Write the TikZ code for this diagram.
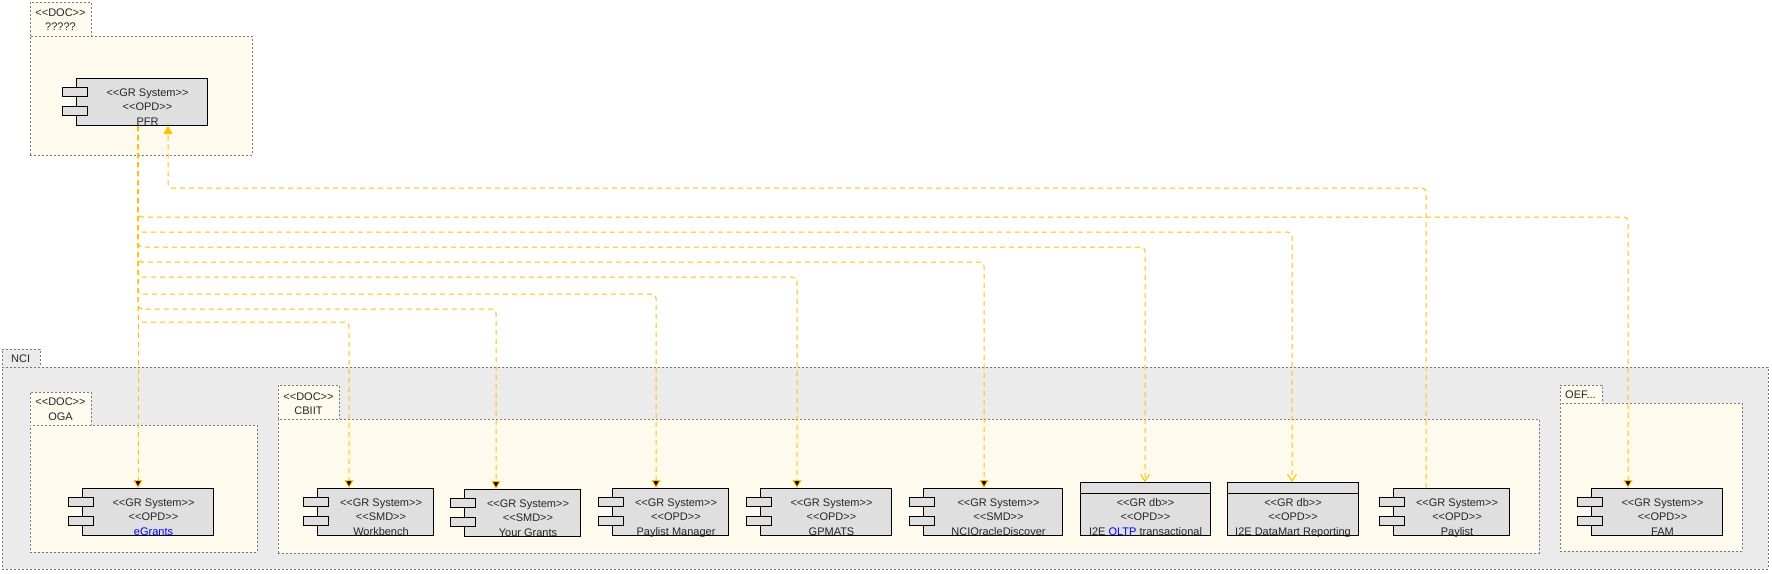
\documentclass[tikz,border=0pt]{standalone}
\usepackage{fontspec}
\setmainfont{Liberation Sans}
\usetikzlibrary{arrows.meta,calc}
\definecolor{cream}{RGB}{254,250,238}
\definecolor{ncigray}{RGB}{235,235,235}
\definecolor{compfill}{RGB}{223,223,223}
\definecolor{pkgline}{RGB}{120,120,120}
\definecolor{depc}{RGB}{255,192,0}
\definecolor{linkblue}{RGB}{0,0,255}
\newcommand\st[1]{<\kern0pt<#1>\kern0pt>}
\tikzset{
  pkgbody/.style={draw=pkgline, line width=0.8pt, dash pattern=on 2pt off 2pt, fill=cream, inner sep=0pt, anchor=north west},
  ncibody/.style={pkgbody, fill=ncigray},
  comp/.style={draw=black, line width=1pt, fill=compfill, minimum height=47pt, inner sep=0pt, anchor=north west},
  port/.style={draw=black, line width=1pt, fill=compfill},
  lbl/.style={anchor=base, inner sep=0pt, font=\fontsize{11}{13}\selectfont, text=black!85},
  lbll/.style={lbl, anchor=base west},
  dep/.style={draw=depc, line width=1pt, dash pattern=on 5pt off 4pt, rounded corners=4pt},
  usearrow/.style={-{Triangle[width=9pt,length=8pt,fill=black]}},
  dbarrow/.style={-{Straight Barb[width=9pt,length=7pt]}},
  pfrarrow/.style={-{Triangle[width=9pt,length=8pt]}},
}
\newcommand\comp[7]{%
  \node[comp, minimum width=#4pt] (#1) at (#2,#3) {};
  \draw[port] ([xshift=-14pt,yshift=-9pt]#1.north west) rectangle ++(25,9);
  \draw[port] ([xshift=-14pt,yshift=-28pt]#1.north west) rectangle ++(25,9);
  \begin{scope}
    \clip (#1.south west) rectangle (#1.north east);
    \node[lbl] (#1-a) at ([xshift=5.5pt,yshift=-18pt]#1.north) {#5};
    \node[lbl] (#1-b) at ([xshift=5.5pt,yshift=-32pt]#1.north) {#6};
    \node[lbl] (#1-c) at ([xshift=5.5pt,yshift=-47pt]#1.north) {#7};
  \end{scope}}
\newcommand\dbbox[7]{%
  \node[comp, minimum width=#4pt, minimum height=53pt] (#1) at (#2,#3) {};
  \draw[line width=1pt] ([yshift=-11pt]#1.north west) -- ([yshift=-11pt]#1.north east);
  \begin{scope}
    \clip (#1.south west) rectangle (#1.north east);
    \node[lbl] (#1-a) at ([yshift=-24pt]#1.north) {#5};
    \node[lbl] (#1-b) at ([yshift=-38pt]#1.north) {#6};
    \node[lbl] (#1-c) at ([yshift=-53pt]#1.north) {#7};
  \end{scope}}
\begin{document}
\begin{tikzpicture}[x=1pt,y=-1pt]
\useasboundingbox[fill=white] (0,0) rectangle (1772,573);

% ---------- packages ----------
\node[pkgbody, minimum width=61pt, minimum height=34pt] (doctab) at (30,2) {};
\node[pkgbody, minimum width=222pt, minimum height=119pt] (docbody) at (30,36) {};
\node[lbl] (doctab-a) at (60.5,16) {\st{DOC}};
\node[lbl] (doctab-b) at (60.5,30) {?????};

\node[ncibody, minimum width=38pt, minimum height=18pt] (ncitab) at (2,349) {};
\node[ncibody, minimum width=1766pt, minimum height=202pt] (ncib) at (2,367) {};
\node[lbll] (ncitab-a) at (11,362) {NCI};

\node[pkgbody, minimum width=61pt, minimum height=33pt] (ogatab) at (30,392) {};
\node[pkgbody, minimum width=227pt, minimum height=127pt] (ogabody) at (30,425) {};
\node[lbl] (ogatab-a) at (60.5,405) {\st{DOC}};
\node[lbl] (ogatab-b) at (60.5,420) {OGA};

\node[pkgbody, minimum width=61pt, minimum height=34pt] (cbtab) at (278,385) {};
\node[pkgbody, minimum width=1261pt, minimum height=134pt] (cbbody) at (278,419) {};
\node[lbl] (cbtab-a) at (308.5,400) {\st{DOC}};
\node[lbl] (cbtab-b) at (308.5,414) {CBIIT};

\node[pkgbody, minimum width=42pt, minimum height=18pt] (oeftab) at (1560,385) {};
\node[pkgbody, minimum width=182pt, minimum height=148pt] (oefbody) at (1560,403) {};
\node[lbll] (oeftab-a) at (1565,398) {OEF...};

% ---------- components ----------
\comp{pfr}{76}{78}{131}{\st{GR System}}{\st{OPD}}{PFR}
\comp{eg}{82}{488}{131}{\st{GR System}}{\st{OPD}}{\textcolor{linkblue}{eGrants}}
\comp{wb}{317}{488}{116}{\st{GR System}}{\st{SMD}}{Workbench}
\comp{yg}{464}{489}{116}{\st{GR System}}{\st{SMD}}{Your Grants}
\comp{plm}{612}{488}{116}{\st{GR System}}{\st{OPD}}{Paylist Manager}
\comp{gp}{760}{488}{131}{\st{GR System}}{\st{OPD}}{GPMATS}
\comp{ncio}{923}{488}{139}{\st{GR System}}{\st{SMD}}{NCIOracleDiscover}
\dbbox{oltp}{1080}{482}{130}{\st{GR db}}{\st{OPD}}{I2E \textcolor{linkblue}{OLTP} transactional}
\dbbox{dm}{1227}{482}{131}{\st{GR db}}{\st{OPD}}{I2E DataMart Reporting}
\comp{pl}{1393}{488}{116}{\st{GR System}}{\st{OPD}}{Paylist}
\comp{fam}{1591}{488}{131}{\st{GR System}}{\st{OPD}}{FAM}

% ---------- connector end points ----------
\coordinate (pfrout) at ([xshift=62pt]pfr.south west);
\coordinate (pfrin) at ([xshift=92pt]pfr.south west);
\coordinate (plout) at ([xshift=33pt]pl.north west);
\coordinate (egin) at ([xshift=56pt]eg.north west);
\coordinate (wbin) at ([xshift=32pt]wb.north west);
\coordinate (ygin) at ([xshift=32pt]yg.north west);
\coordinate (plmin) at ([xshift=44pt]plm.north west);
\coordinate (gpin) at ([xshift=37pt]gp.north west);
\coordinate (ncioin) at ([xshift=61pt]ncio.north west);
\coordinate (oltpin) at ([xshift=65pt]oltp.north west);
\coordinate (dmin) at ([xshift=65pt]dm.north west);
\coordinate (famin) at ([xshift=37pt]fam.north west);
\coordinate (h188) at (0,188);
\coordinate (h217) at (0,217);
\coordinate (h232) at (0,232);
\coordinate (h247) at (0,247);
\coordinate (h262) at (0,262);
\coordinate (h277) at (0,277);
\coordinate (h294) at (0,294);
\coordinate (h309) at (0,309);
\coordinate (h322) at (0,322);

% ---------- connectors ----------
\draw[dep, pfrarrow] (plout) |- (h188 -| pfrin) -- (pfrin);
\draw[dep, usearrow] (pfrout) |- (h217 -| famin) -- (famin);
\draw[dep, dbarrow] (pfrout) |- (h232 -| dmin) -- (dmin);
\draw[dep, dbarrow] (pfrout) |- (h247 -| oltpin) -- (oltpin);
\draw[dep, usearrow] (pfrout) |- (h262 -| ncioin) -- (ncioin);
\draw[dep, usearrow] (pfrout) |- (h277 -| gpin) -- (gpin);
\draw[dep, usearrow] (pfrout) |- (h294 -| plmin) -- (plmin);
\draw[dep, usearrow] (pfrout) |- (h309 -| ygin) -- (ygin);
\draw[dep, usearrow] (pfrout) |- (h322 -| wbin) -- (wbin);
\draw[dep, usearrow] (pfrout) -- (egin);
\end{tikzpicture}
\end{document}
